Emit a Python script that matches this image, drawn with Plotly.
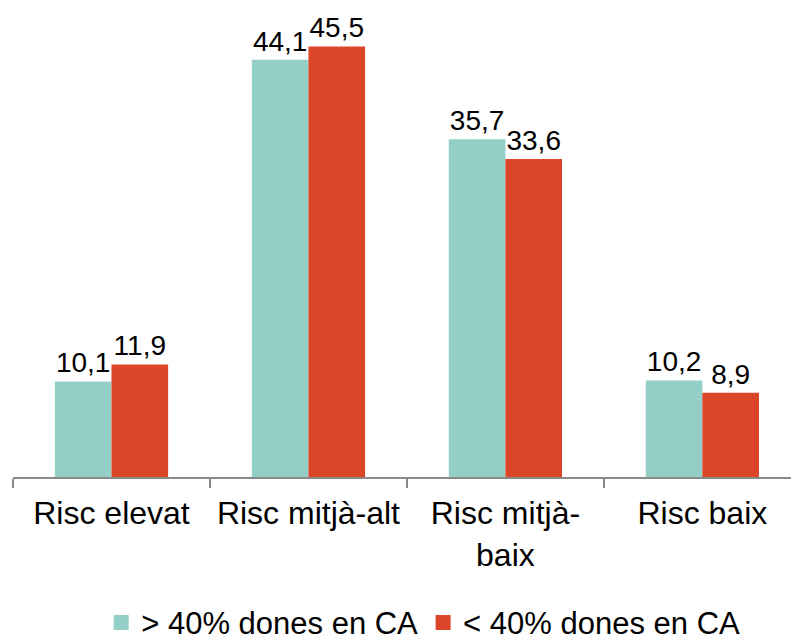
import plotly.graph_objects as go

categories = ["Risc elevat", "Risc mitjà-alt", "Risc mitjà-<br>baix", "Risc baix"]
series_names = ["> 40% dones en CA", "< 40% dones en CA"]
vals_high = [10.1, 44.1, 35.7, 10.2]
vals_low = [11.9, 45.5, 33.6, 8.9]
colors = ["#93CFC7", "#DB4528"]

def fmt(v):
    return f"{v:.1f}".replace(".", ",")

fig = go.Figure()
for name, vals, col in zip(series_names, [vals_high, vals_low], colors):
    fig.add_trace(go.Bar(
        x=categories, y=vals, name=name, marker_color=col,
        marker_line_width=0, showlegend=False,
        text=[fmt(v) for v in vals], textposition="outside",
        constraintext="none",
        textfont=dict(size=28, color="black"), cliponaxis=False,
    ))
# legend entries with square swatches
for name, col in zip(series_names, colors):
    fig.add_trace(go.Scatter(
        x=[None], y=[None], mode="markers", name=name,
        marker=dict(symbol="square", size=15, color=col),
    ))

fig.update_layout(
    width=791, height=642,
    margin=dict(l=13, r=0, t=0, b=165, autoexpand=False),
    paper_bgcolor="white", plot_bgcolor="white",
    font=dict(family="Liberation Sans, Arial, sans-serif", size=20, color="black"),
    barmode="group", bargap=0.425, bargroupgap=0,
    showlegend=True,
    legend=dict(orientation="h", xref="container", yref="container",
                x=0.535, xanchor="center", y=0.03, yanchor="middle",
                font=dict(size=31), itemwidth=30, traceorder="normal"),
    xaxis=dict(range=[-0.5, 3.45], showline=True, linecolor="#898989", linewidth=2,
               ticks="outside", tickson="boundaries", ticklen=9, tickcolor="#898989",
               tickwidth=2, tickfont=dict(size=32), ticklabelstandoff=7),
    yaxis=dict(range=[0, 50.4], visible=False, showgrid=False),
)
fig.write_html("out.html", config={"displayModeBar": False},
               post_script="document.body.style.margin='0';document.body.style.overflow='hidden';")
